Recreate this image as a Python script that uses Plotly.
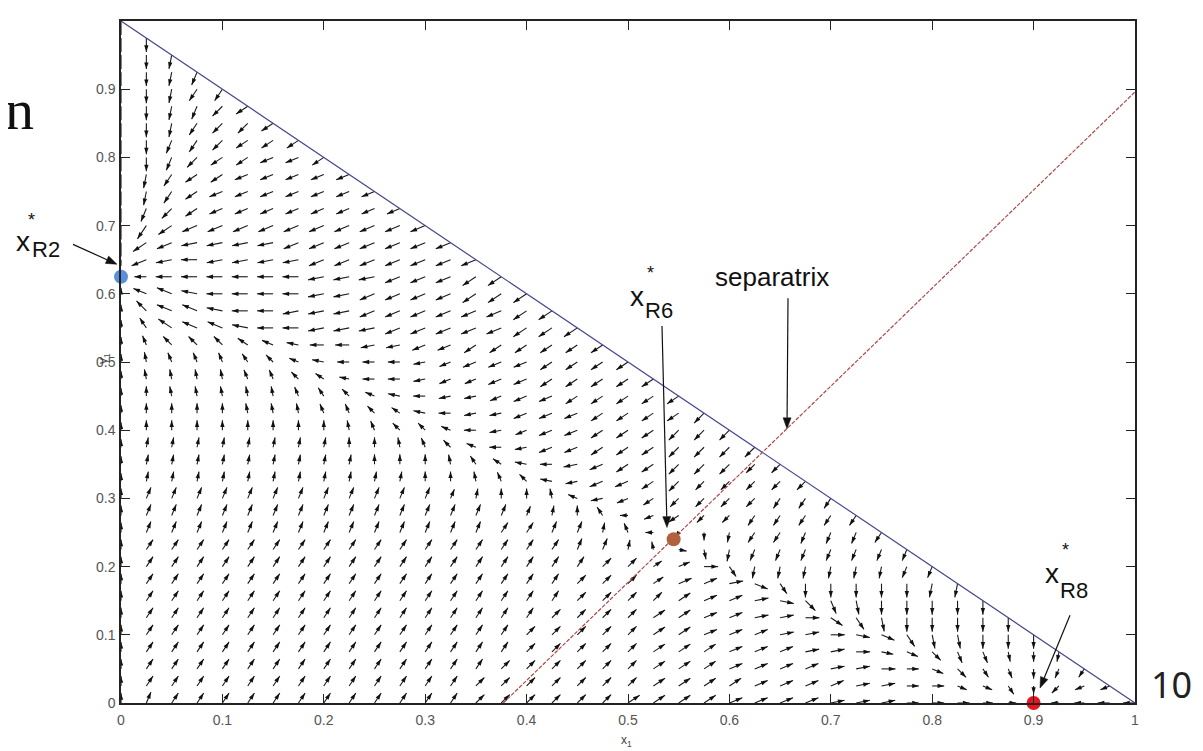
import math
import plotly.graph_objects as go

# ---------------- data ----------------
# quiver grid (x and y share the same grid)
GRID = [0.0, 0.025, 0.05, 0.075, 0.1, 0.125, 0.15, 0.175, 0.2, 0.225, 0.25,
        0.275, 0.3, 0.325, 0.35, 0.375, 0.4, 0.425, 0.45, 0.475, 0.5, 0.525,
        0.55, 0.575, 0.6, 0.625, 0.65, 0.675, 0.7, 0.725, 0.75, 0.775, 0.8,
        0.825, 0.85, 0.875, 0.9, 0.925, 0.95, 0.975, 1.0]

# arrow direction code per grid point: 32 compass steps of 11.25 deg,
# "0" = pointing right, "8" = up, "g" = left, "o" = down, "." = no arrow
DIR_CODES = "0123456789abcdefghijklmnopqrstuv"
DIR_STEP_DEG = 11.25

# one string per row j (y = GRID[j]); character i is the arrow at x = GRID[i]
ANGLE_ROWS = [
    "86" "555555555555" "444444" "3333" "2222" "111" "00000" "." "gggg",
    "8" "5555555555555" "44" "44444" "3333" "2222" "11" "00" "uu" "r" "o" "k" "ii",
    "8" "55555555555555" "44" "4444" "333" "2222" "11" "00" "usrqoml",
    "8" "555555555555555" "44" "444" "333" "222" "11" "0" "vusqqpon",
    "8" "555555555555555" "44" "444" "33" "222" "11" "0" "vurppooo",
    "8" "5555555555555555" "44" "44" "33" "22" "11" "0" "trpooooo",
    "8" "55555555555555555" "44" "44" "3" "22" "1" "vsqpooooo",
    "8" "55555555555555555" "444" "3" "22" "1" "urooooonn",
    "8" "555555555555555555" "44" "320" "rnnnnnnmm",
    "8" "55555555555555555" "6679" "vpn" "mmmmmmm",
    "8" "66666666666666" "5566" "7agl" "on" "llmmml",
    "8" "6666666666666666" "78bgij" "kk" "lllll",
    "8" "6666666666666" "7889ehij" "kkkk" "lll",
    "8" "77777777777" "889acfhiij" "kkkkkk",
    "8" "777777777" "8889bdfghijj" "kkkkk",
    "8" "77777777" "889aceghiijjj" "kkkk",
    "888888888" "9acceghiiijjj" "kkk",
    "88888" "999aacdfghhiii" "jjjjk",
    "88" "99999" "abcefghhiii" "jjjjj",
    "8" "9999" "aacdfgghiiii" "jjjjj",
    "8" "9aaabcefggghiiii" "jjjj",
    "8" "acccdefgghhii" "jjjjjj",
    "8" "bdeefgghhhiiiii" "jjj",
    "8" "ceefgghhhiiiiii" "jj",
    "8" "eefgggghhiiii" "jjj",
    "." "ggggggg" "hhhiiijj",
    "oihghhhhiiiiiii",
    "ojihhhhiiiiiii",
    "oljiiiiiiiiii",
    "omkjiiiiiiii",
    "onljiiiiiii",
    "onljjiiiii",
    "oomkjjiij",
    "oomlkjjj",
    "oonlkkj",
    "oonmkj",
    "oonll",
    "oonm",
    "oon",
    "oo",
    "o",
]

# drawn arrow length per grid point, hex digit d -> 2*d pixels
LENGTH_ROWS = [
    "5" "6666666666666" "66" "6666" "77777777777" "666" "54" "0" "4566",
    "5" "6666666666666" "66" "66666" "7777777777" "66" "555" "4" "555",
    "5" "66666666666666" "66" "6666" "7777777777" "666" "555" "55",
    "5" "666666666666666" "66" "666" "777777777" "66666" "555",
    "5" "666666666666666" "66" "666" "77777777" "77777777",
    "5" "6666666666666666" "66" "66" "7777777" "77777777",
    "5" "66666666666666666" "66" "66" "77777" "777" "77777",
    "5" "66666666666666666" "66" "6" "6" "7777" "6" "7777777",
    "5" "666666666666666666" "66" "5" "6" "7" "6" "666666" "66",
    "5" "666666666666666666" "6" "5" "4" "4" "5" "6" "6666666",
    "5" "6666666666666666" "66" "5" "5" "4" "3" "4" "5" "666666",
    "5" "666666666666666" "5555" "4" "5" "6" "55" "66666",
    "5" "666666666666" "555555" "66" "666" "66666",
    "4" "5555555555555555" "66" "7777" "66666",
    "4" "555555555555555" "66" "7777777" "66",
    "4" "55555555555555" "66" "777777777",
    "4" "5555555555555" "666" "77777777",
    "4" "55555555555" "6666" "77777777",
    "4" "5555555555" "66666" "7777777",
    "4" "555555555" "66666" "7777777",
    "4" "5555555" "666666" "7777777",
    "45" "666666" "777777777777",
    "46" "88888888888888888",
    "37" "8888888888888888",
    "37" "888888888888888",
    "06" "88888888888888",
    "3" "88888888888888",
    "7" "8888888888888",
    "7" "888888888888",
    "777777777777",
    "77777777777",
    "7777777777",
    "777777777",
    "77777777",
    "7777777",
    "777777",
    "77777",
    "7777",
    "777",
    "77",
    "7",
]

# feasible-region boundary x + y = 1 and the separatrix
BOUNDARY_X = [0.0, 1.0]
BOUNDARY_Y = [1.0, 0.0]
SEPARATRIX_X = [0.377, 1.0]
SEPARATRIX_Y = [0.0, 0.896]

# equilibria
EQ_NAMES = ["R2", "R6", "R8"]
EQ_X = [0.0, 0.545, 0.9]
EQ_Y = [0.625, 0.24, 0.0]
EQ_COLORS = ["#5b8fd9", "#b0623c", "#e8141e"]

X_TICKS = [0, 0.1, 0.2, 0.3, 0.4, 0.5, 0.6, 0.7, 0.8, 0.9, 1.0]
X_TICK_TEXT = ["0", "0.1", "0.2", "0.3", "0.4", "0.5", "0.6", "0.7", "0.8", "0.9", "1"]
Y_TICKS = [0, 0.1, 0.2, 0.3, 0.4, 0.5, 0.6, 0.7, 0.8, 0.9]
Y_TICK_TEXT = ["0", "0.1", "0.2", "0.3", "0.4", "0.5", "0.6", "0.7", "0.8", "0.9"]

# ---------------- layout constants ----------------
W, H = 1203, 751
PAGE_OFFSET = 8                      # default body margin of the html page
PLOT_LEFT, PLOT_TOP = 121, 19        # plot area in page pixels
PX_X, PX_Y = 1014, 684               # plot area size in pixels
ML = PLOT_LEFT - PAGE_OFFSET
MT = PLOT_TOP - PAGE_OFFSET
MR = W - ML - PX_X
MB = H - MT - PX_Y
PLOT_BOTTOM = PLOT_TOP + PX_Y


def px_to_paper(px, py):
    return (px - PLOT_LEFT) / PX_X, (PLOT_BOTTOM - py) / PX_Y


# ---------------- build quiver ----------------
sx, sy, hx, hy, hang = [], [], [], [], []
for j, arow in enumerate(ANGLE_ROWS):
    lrow = LENGTH_ROWS[j] if j < len(LENGTH_ROWS) else ""
    y0 = GRID[j]
    for i, code in enumerate(arow):
        if code == "." or i >= len(GRID):
            continue
        d = lrow[i] if i < len(lrow) else (lrow[-1] if lrow else "6")
        L = 2 * int(d, 16)
        if L == 0:
            continue
        deg = DIR_CODES.index(code) * DIR_STEP_DEG
        th = math.radians(deg)
        x0 = GRID[i]
        x1 = x0 + L * math.cos(th) / PX_X
        y1 = y0 + L * math.sin(th) / PX_Y
        sx += [x0, x1, None]
        sy += [y0, y1, None]
        hx.append(x1)
        hy.append(y1)
        hang.append(90 - deg)

fig = go.Figure()

fig.add_trace(go.Scatter(x=sx, y=sy, mode="lines", cliponaxis=False,
                         line=dict(color="#1a1a1a", width=1.1),
                         hoverinfo="skip", showlegend=False))
fig.add_trace(go.Scatter(x=hx, y=hy, mode="markers", cliponaxis=False,
                         marker=dict(symbol="arrow", size=7, angle=hang,
                                     color="#111111", line=dict(width=0)),
                         hoverinfo="skip", showlegend=False))

fig.add_trace(go.Scatter(x=BOUNDARY_X, y=BOUNDARY_Y, mode="lines",
                         line=dict(color="#45488c", width=1.2),
                         showlegend=False, hoverinfo="skip"))
fig.add_trace(go.Scatter(x=SEPARATRIX_X, y=SEPARATRIX_Y, mode="lines",
                         line=dict(color="#b04848", width=1.2, dash="4px,1.5px"),
                         showlegend=False, hoverinfo="skip"))

fig.add_trace(go.Scatter(x=EQ_X, y=EQ_Y, mode="markers", cliponaxis=False,
                         text=EQ_NAMES,
                         marker=dict(size=14, color=EQ_COLORS, line=dict(width=0)),
                         showlegend=False, hoverinfo="text"))

# ---------------- annotations ----------------
ann = []
shapes = []


def label(px, py, text, size, family="Liberation Sans", color="#111111",
          xanchor="center", yanchor="middle", angle=0):
    xp, yp = px_to_paper(px, py)
    ann.append(dict(x=xp, y=yp, xref="paper", yref="paper", text=text,
                    showarrow=False, xanchor=xanchor, yanchor=yanchor,
                    textangle=angle, borderpad=0,
                    font=dict(family=family, size=size, color=color)))


def pointer(tip_px, tip_py, tail_px, tail_py, head_len=11, head_half=4):
    dx, dy = tip_px - tail_px, tip_py - tail_py
    n = math.hypot(dx, dy)
    ux, uy = dx / n, dy / n
    bx, by = tip_px - head_len * ux, tip_py - head_len * uy
    # shaft
    x0, y0 = px_to_paper(tail_px, tail_py)
    x1, y1 = px_to_paper(bx, by)
    shapes.append(dict(type="line", xref="paper", yref="paper",
                       x0=x0, y0=y0, x1=x1, y1=y1,
                       line=dict(color="#111111", width=1.2)))
    # filled head
    pts = [(tip_px, tip_py),
           (bx - head_half * uy, by + head_half * ux),
           (bx + head_half * uy, by - head_half * ux)]
    pp = [px_to_paper(a, b) for a, b in pts]
    path = "M {:.5f},{:.5f} L {:.5f},{:.5f} L {:.5f},{:.5f} Z".format(
        pp[0][0], pp[0][1], pp[1][0], pp[1][1], pp[2][0], pp[2][1])
    shapes.append(dict(type="path", xref="paper", yref="paper", path=path,
                       fillcolor="#111111", line=dict(color="#111111", width=0.5)))


# x*_R2
label(23, 240, "x", 28)
label(31, 219, "*", 18)
label(46, 248, "R2", 22)
pointer(117, 263, 73, 243)
# x*_R6
label(637, 295, "x", 28)
label(650, 272, "*", 18)
label(659, 309, "R6", 22)
pointer(667, 527, 662, 325)
# separatrix
label(772, 276, "separatrix", 26)
pointer(787, 428, 788, 297)
# x*_R8
label(1052, 573, "x", 28)
label(1065, 550, "*", 18)
label(1074, 590, "R8", 22)
pointer(1040, 688, 1070, 615)
# slide fragments
label(4, 108, "n", 58, family="Liberation Serif", xanchor="left")
label(1171, 684, "10", 36, family="Noto Sans", color="#222222")
# axis labels
label(626, 741, "x<sub>1</sub>", 12, color="#444444")
label(104, 358, "y<sub>1</sub>", 12, color="#444444", angle=-90)

axis_common = dict(range=[0, 1], ticks="inside", ticklen=9, tickwidth=1.2,
                   tickcolor="#222222", showline=True, linecolor="#222222",
                   linewidth=1.5, mirror="ticks", showgrid=False, zeroline=False,
                   tickfont=dict(family="Liberation Sans", size=14, color="#555555"))

fig.update_layout(
    width=W, height=H,
    margin=dict(l=ML, r=MR, t=MT, b=MB),
    paper_bgcolor="white", plot_bgcolor="white",
    xaxis=dict(tickvals=X_TICKS, ticktext=X_TICK_TEXT, ticklabelstandoff=3,
               **axis_common),
    yaxis=dict(tickvals=Y_TICKS, ticktext=Y_TICK_TEXT, ticklabelstandoff=1,
               **axis_common),
    annotations=ann,
    shapes=shapes,
    showlegend=False,
)

fig.write_html("out.html")
